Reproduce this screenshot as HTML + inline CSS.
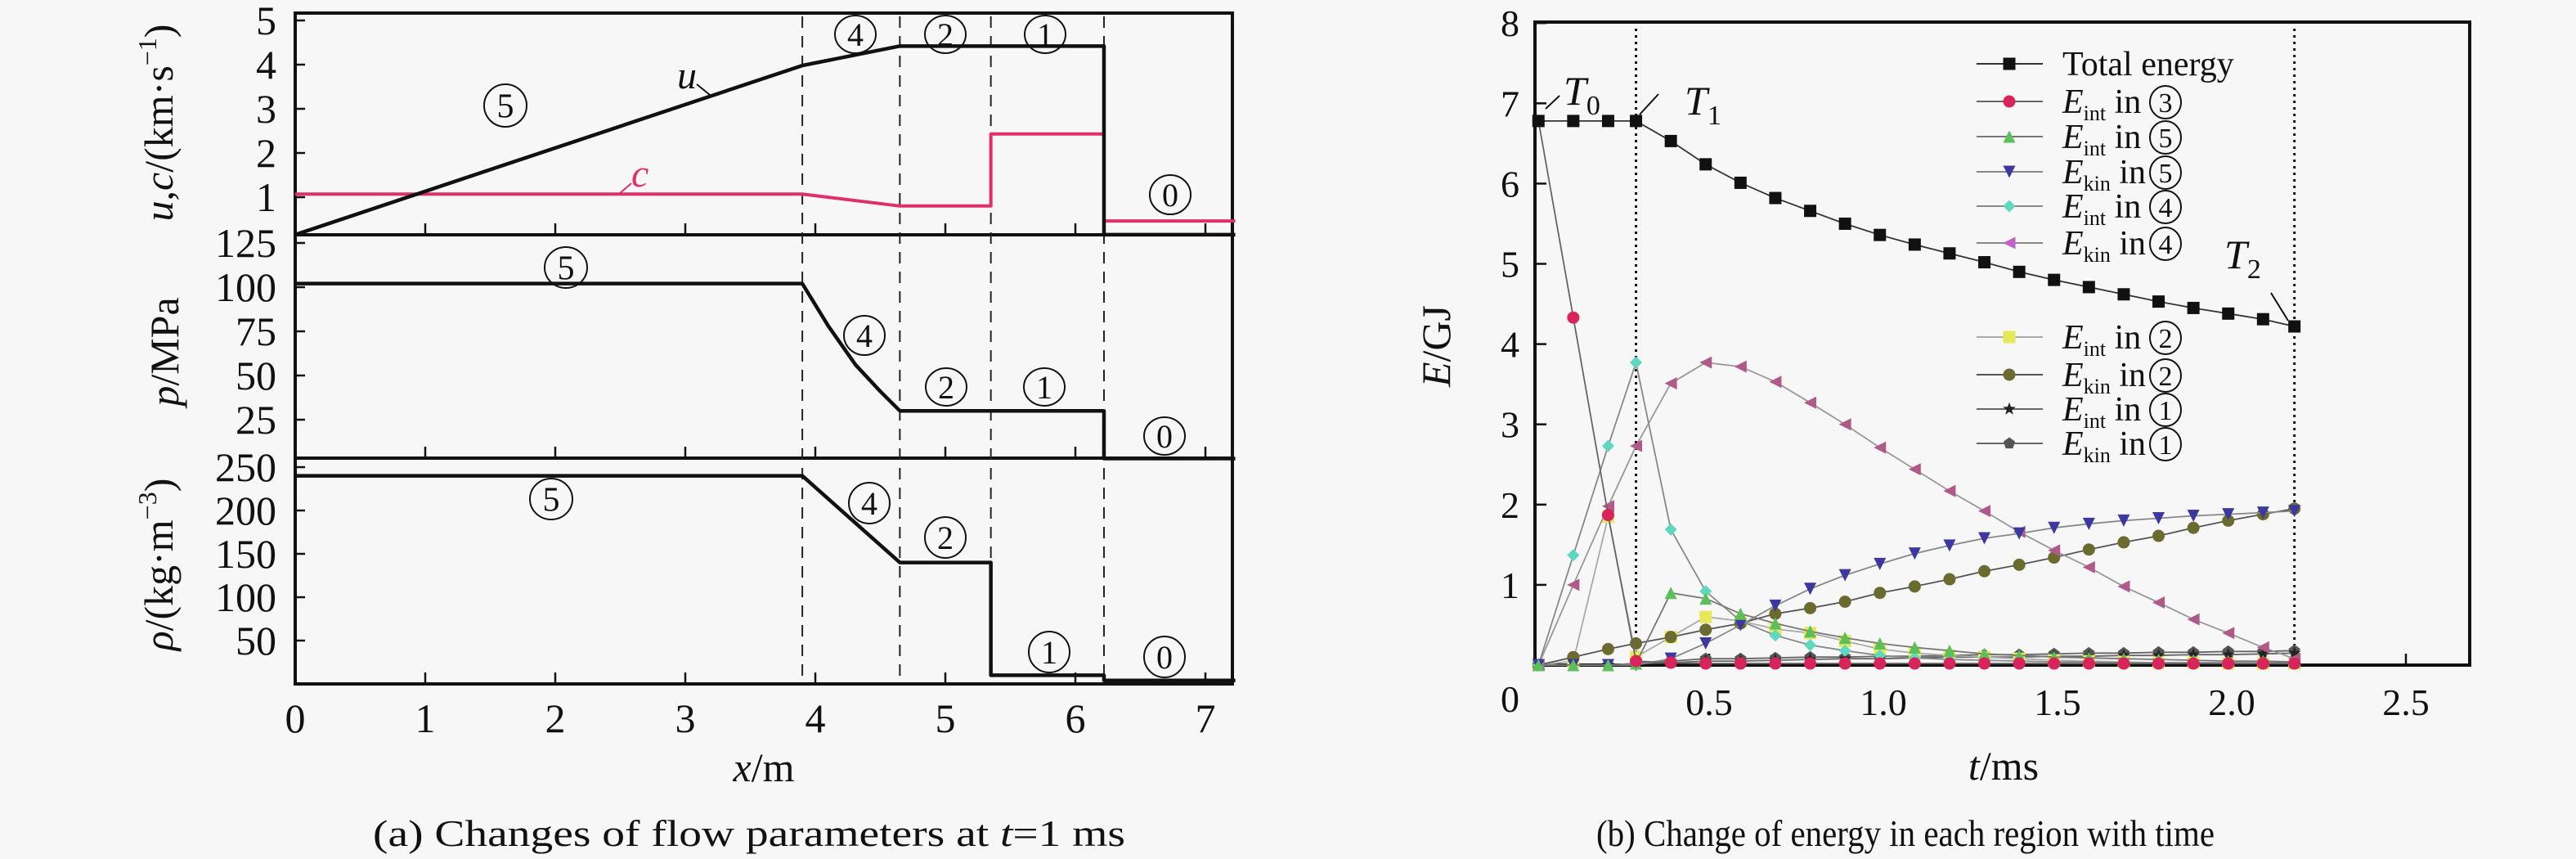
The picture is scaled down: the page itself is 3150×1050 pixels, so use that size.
<!DOCTYPE html>
<html><head><meta charset="utf-8"><style>
html,body{margin:0;padding:0;background:#f7f7f7;}
svg{display:block;font-family:"Liberation Serif",serif;}
</style></head><body>
<svg id="fig" width="3150" height="1050" viewBox="0 0 3150 1050" xmlns="http://www.w3.org/2000/svg">
<rect x="0" y="0" width="3150" height="1050" fill="#f7f7f7"/>
<g id="left"></g>
<g id="right"></g>
</svg>
<script>
// ---------- Left chart data ----------
const xTicks = [0,1,2,3,4,5,6,7];
const uTicks = [1,2,3,4,5];
const pTicks = [25,50,75,100,125];
const rTicks = [50,100,150,200,250];
const waveFronts = [3.9,4.65,5.35,6.22];
const uX = [0,3.9,4.65,6.22,6.22,7.23];
const uV = [0.15,3.98,4.42,4.42,0.15,0.15];
const cX = [0,3.9,4.65,5.35,5.35,6.22,6.22,7.23];
const cV = [1.07,1.07,0.8,0.8,2.43,2.43,0.46,0.46];
const pX = [0,3.9,4.1,4.31,4.5,4.65,6.22,6.22,7.23];
const pV = [102,102,78,56,41,30,30,3,3];
const rX = [0,3.9,4.65,5.35,5.35,6.22,6.22,7.23];
const rV = [240,240,140,140,10,10,4,4];

// ---------- Right chart data ----------
const tTicks = [0,0.5,1.0,1.5,2.0,2.5];
const tTickLabels = ["0","0.5","1.0","1.5","2.0","2.5"];
const eTicks = [1,2,3,4,5,6,7,8];
const tVals = [0.01,0.11,0.21,0.29,0.39,0.49,0.59,0.69,0.79,0.89,0.99,1.09,1.19,1.29,1.39,1.49,1.59,1.69,1.79,1.89,1.99,2.09,2.18];
const totalE = [6.78,6.78,6.78,6.78,6.53,6.24,6.01,5.82,5.66,5.50,5.36,5.24,5.13,5.02,4.90,4.80,4.71,4.62,4.53,4.45,4.38,4.31,4.22];
const eInt3 = [6.78,4.33,1.87,0.05,0.03,0.02,0.02,0.02,0.02,0.02,0.02,0.02,0.02,0.02,0.02,0.02,0.02,0.02,0.02,0.02,0.02,0.02,0.02];
const eInt5 = [0,0,0,0.02,0.90,0.83,0.64,0.52,0.42,0.34,0.27,0.22,0.18,0.14,0.12,0.10,0.09,0.08,0.07,0.06,0.05,0.05,0.04];
const eKin5 = [0,0,0,0,0.08,0.27,0.50,0.74,0.95,1.12,1.26,1.39,1.49,1.58,1.64,1.71,1.76,1.80,1.83,1.86,1.88,1.90,1.92];
const eInt4 = [0,1.37,2.73,3.77,1.69,0.92,0.55,0.37,0.25,0.18,0.12,0.09,0.07,0.06,0.05,0.04,0.04,0.03,0.03,0.03,0.03,0.03,0.03];
const eKin4 = [0,1.0,1.98,2.73,3.51,3.77,3.72,3.53,3.27,3.0,2.71,2.44,2.17,1.92,1.66,1.43,1.22,0.98,0.78,0.57,0.40,0.22,0.08];
const eInt2 = [0,0.05,1.85,0.10,0.35,0.60,0.55,0.45,0.40,0.30,0.20,0.15,0.12,0.10,0.08,0.06,0.05,0.04,0.03,0.03,0.02,0.02,0.02];
const eKin2 = [0,0.10,0.20,0.27,0.35,0.44,0.52,0.64,0.71,0.79,0.90,0.98,1.07,1.17,1.25,1.34,1.44,1.53,1.61,1.71,1.80,1.88,1.95];
const eInt1 = [0,0,0,0.02,0.03,0.05,0.05,0.06,0.07,0.08,0.08,0.09,0.10,0.10,0.10,0.11,0.11,0.12,0.12,0.13,0.13,0.14,0.15];
const eKin1 = [0,0,0,0.02,0.05,0.08,0.08,0.09,0.10,0.10,0.11,0.11,0.12,0.13,0.13,0.14,0.15,0.15,0.16,0.16,0.17,0.17,0.18];

const NS = "http://www.w3.org/2000/svg";
function mk(parent, tag, attrs){const e=document.createElementNS(NS,tag);for(const k in attrs)e.setAttribute(k,attrs[k]);parent.appendChild(e);return e;}
const L = document.getElementById('left');
const R = document.getElementById('right');

// ---------- Left scales ----------
const LX0=361, LX1=1507;
const X = x => LX0 + 159*x;
const Yu = v => 241 - 54*(v-1);
const Yp = v => 297 + (125-v)*2.16;
const Yr = v => 836 - 1.06*v;
const panels = [{top:16,bot:287,name:'velocity-panel'},{top:287,bot:560,name:'pressure-panel'},{top:560,bot:836,name:'density-panel'}];

function circled(parent, cx, cy, digit, w, h, fs){
  const g = mk(parent,'g',{});
  
  
  mk(g,'ellipse',{cx:cx,cy:cy,rx:w/2,ry:h/2,fill:'none',stroke:'#111','stroke-width':2});
  const t = mk(g,'text',{x:cx,y:cy+fs*0.35,'text-anchor':'middle','font-size':fs,fill:'#111'});
  t.textContent = digit;
  return g;
}

panels.forEach(p=>{
  const r = mk(L,'rect',{x:LX0,y:p.top,width:LX1-LX0,height:p.bot-p.top,fill:'none',stroke:'#111','stroke-width':4});
  
  
  xTicks.forEach(v=>{
    const tk = mk(L,'line',{x1:X(v),x2:X(v),y1:p.bot,y2:p.bot-14,stroke:'#111','stroke-width':2.5});
    
    
  });
});
function yTicks(vals, fy, name){
  vals.forEach(v=>{
    const y = fy(v);
    const tk = mk(L,'line',{x1:LX0,x2:LX0+12,y1:y,y2:y,stroke:'#111','stroke-width':2.5});
    
    
    const tl = mk(L,'text',{x:338,y:y+17,'text-anchor':'end','font-size':50,fill:'#111'});
    
    
    tl.textContent = String(v);
  });
}
yTicks(uTicks,Yu,'velocity');
yTicks(pTicks,Yp,'pressure');
yTicks(rTicks,Yr,'density');
xTicks.forEach(v=>{
  const tl = mk(L,'text',{x:X(v),y:895,'text-anchor':'middle','font-size':50,fill:'#111'});
  
  
  tl.textContent = String(v);
});
waveFronts.forEach(v=>{
  const d = mk(L,'line',{x1:X(v),x2:X(v),y1:20,y2:834,stroke:'#222','stroke-width':2,'stroke-dasharray':'14 10'});
  
  
});
function poly(parent, xs, vs, fx, fy, color, w, name){
  const pts = xs.map((x,i)=>fx(x)+','+fy(vs[i])).join(' ');
  const pl = mk(parent,'polyline',{points:pts,fill:'none',stroke:color,'stroke-width':w,'stroke-linejoin':'round'});
  
  
  return pl;
}
poly(L,cX,cV,X,Yu,'#e0306a',4,'sound-speed-line');
poly(L,uX,uV,X,Yu,'#111',4.5,'velocity-line');
poly(L,pX,pV,X,Yp,'#111',4.5,'pressure-line');
poly(L,rX,rV,X,Yr,'#111',4.5,'density-line');

const uLab = mk(L,'text',{x:828,y:108,'font-size':48,'font-style':'italic',fill:'#111'});


uLab.textContent='u';
const uLead = mk(L,'line',{x1:852,y1:103,x2:868,y2:116,stroke:'#111','stroke-width':2});


const cLab = mk(L,'text',{x:772,y:228,'font-size':48,'font-style':'italic',fill:'#e0306a'});


cLab.textContent='c';
const cLead = mk(L,'line',{x1:772,y1:224,x2:756,y2:238,stroke:'#e0306a','stroke-width':2});



circled(L,618,129,'5',52,52,42);
circled(L,1046,42,'4',50,46,40);
circled(L,1156,42,'2',50,46,40);
circled(L,1278,42,'1',50,46,40);
circled(L,1431,238,'0',50,48,40);
circled(L,692,327,'5',52,50,42);
circled(L,1057,410,'4',50,48,40);
circled(L,1157,473,'2',50,46,40);
circled(L,1277,473,'1',50,46,40);
circled(L,1424,533,'0',50,46,40);
circled(L,674,610,'5',52,50,42);
circled(L,1063,615,'4',50,50,40);
circled(L,1156,657,'2',50,50,40);
circled(L,1283,797,'1',50,50,40);
circled(L,1424,803,'0',50,50,40);

let t1 = mk(L,'text',{x:0,y:0,'font-size':50,fill:'#111','text-anchor':'middle',transform:'translate(211,150) rotate(-90)'});


t1.innerHTML='<tspan font-style="italic">u</tspan>,<tspan font-style="italic">c</tspan>/(km·s<tspan font-size="32" dy="-20">−1</tspan><tspan dy="20">)</tspan>';
let t2 = mk(L,'text',{x:0,y:0,'font-size':50,fill:'#111','text-anchor':'middle',transform:'translate(218,430) rotate(-90)'});


t2.innerHTML='<tspan font-style="italic">p</tspan>/MPa';
let t3 = mk(L,'text',{x:0,y:0,'font-size':50,fill:'#111','text-anchor':'middle',transform:'translate(211,690) rotate(-90)'});


t3.innerHTML='<tspan font-style="italic">ρ</tspan>/(kg·m<tspan font-size="32" dy="-20">−3</tspan><tspan dy="20">)</tspan>';
let t4 = mk(L,'text',{x:934,y:955,'font-size':50,fill:'#111','text-anchor':'middle'});


t4.innerHTML='<tspan font-style="italic">x</tspan>/m';
let cap1 = mk(L,'text',{x:916,y:1034,'font-size':46,fill:'#111','text-anchor':'middle',textLength:920,lengthAdjust:'spacingAndGlyphs'});


cap1.innerHTML='(a) Changes of flow parameters at <tspan font-style="italic">t</tspan>=1 ms';

// ---------- Right scales ----------
const RX0=1877, RX1=3020, RY0=27, RY1=813;
const TX = t => RX0 + 426*t;
const EY = e => RY1 - 98.1*e;
const frame = mk(R,'rect',{x:RX0,y:RY0,width:RX1-RX0,height:RY1-RY0,fill:'none',stroke:'#111','stroke-width':4});


eTicks.forEach(v=>{
  const y=EY(v);
  const tk = mk(R,'line',{x1:RX0,x2:RX0+14,y1:y,y2:y,stroke:'#111','stroke-width':2.5});
  
  
});
eTicks.concat([0]).forEach(v=>{
  const y = v===0 ? 870 : EY(v)+16;
  const tl = mk(R,'text',{x:1858,y:y,'text-anchor':'end','font-size':46,fill:'#111'});
  
  
  tl.textContent=String(v);
});
tTicks.forEach((v,i)=>{
  const tk = mk(R,'line',{x1:TX(v),x2:TX(v),y1:RY1,y2:RY1-14,stroke:'#111','stroke-width':2.5});
  
  
  if(i===0) return;
  const tl = mk(R,'text',{x:TX(v),y:874,'text-anchor':'middle','font-size':46,fill:'#111'});
  
  
  tl.textContent=tTickLabels[i];
});
[0.29,2.18].forEach(v=>{
  const d = mk(R,'line',{x1:TX(v),x2:TX(v),y1:RY0+8,y2:RY1,stroke:'#111','stroke-width':3,'stroke-dasharray':'3 5'});
  
  
});

function marker(parent, shape, cx, cy, color, s){
  let el;
  const h=s/2;
  if(shape==='square') el = mk(parent,'rect',{x:cx-h,y:cy-h,width:s,height:s,fill:color});
  else if(shape==='circle') el = mk(parent,'circle',{cx:cx,cy:cy,r:h,fill:color});
  else if(shape==='up') el = mk(parent,'polygon',{points:`${cx},${cy-h} ${cx+h},${cy+h} ${cx-h},${cy+h}`,fill:color});
  else if(shape==='down') el = mk(parent,'polygon',{points:`${cx-h},${cy-h} ${cx+h},${cy-h} ${cx},${cy+h}`,fill:color});
  else if(shape==='diamond') el = mk(parent,'polygon',{points:`${cx},${cy-h} ${cx+h},${cy} ${cx},${cy+h} ${cx-h},${cy}`,fill:color});
  else if(shape==='left') el = mk(parent,'polygon',{points:`${cx-h},${cy} ${cx+h},${cy-h} ${cx+h},${cy+h}`,fill:color});
  else if(shape==='star'){
    let pts=[];for(let k=0;k<10;k++){const r=k%2?h*0.45:h*1.1;const a=-Math.PI/2+k*Math.PI/5;pts.push((cx+r*Math.cos(a)).toFixed(1)+','+(cy+r*Math.sin(a)).toFixed(1));}
    el = mk(parent,'polygon',{points:pts.join(' '),fill:color});
  } else if(shape==='pent'){
    let pts=[];for(let k=0;k<5;k++){const a=-Math.PI/2+k*2*Math.PI/5;pts.push((cx+h*Math.cos(a)).toFixed(1)+','+(cy+h*Math.sin(a)).toFixed(1));}
    el = mk(parent,'polygon',{points:pts.join(' '),fill:color});
  }
  return el;
}

const seriesDefs = [
  {vals:eKin1,shape:'pent',color:'#555555',line:'#666',name:'ekin-region-1'},
  {vals:eInt1,shape:'star',color:'#222222',line:'#666',name:'eint-region-1'},
  {vals:eInt2,shape:'square',color:'#e6e85a',line:'#aaa',name:'eint-region-2'},
  {vals:eKin2,shape:'circle',color:'#6b6b30',line:'#555',name:'ekin-region-2'},
  {vals:eKin4,shape:'left',color:'#b05a8a',line:'#999',name:'ekin-region-4'},
  {vals:eInt4,shape:'diamond',color:'#5fd8c0',line:'#888',name:'eint-region-4'},
  {vals:eKin5,shape:'down',color:'#3c38a0',line:'#888',name:'ekin-region-5'},
  {vals:eInt5,shape:'up',color:'#5cbf5c',line:'#777',name:'eint-region-5'},
  {vals:eInt3,shape:'circle',color:'#d8245a',line:'#666',name:'eint-region-3'},
  {vals:totalE,shape:'square',color:'#111111',line:'#333',name:'total-energy'}
];
seriesDefs.forEach(sd=>{
  const g = mk(R,'g',{});
  
  
  const pts = tVals.map((t,i)=>TX(t).toFixed(1)+','+EY(sd.vals[i]).toFixed(1)).join(' ');
  const pl = mk(g,'polyline',{points:pts,fill:'none',stroke:sd.line,'stroke-width':1.8});
  
  
  tVals.forEach((t,i)=>{
    const m = marker(g,sd.shape,TX(t),EY(sd.vals[i]),sd.color,15);
    
    
  });
});

function tLabel(x,y,sub,name){
  const t = mk(R,'text',{x:x,y:y,'font-size':50,'font-style':'italic',fill:'#111'});
  
  
  t.innerHTML='T<tspan font-style="normal" font-size="34" dy="12">'+sub+'</tspan>';
}
tLabel(1912,128,'0','t0-label');
tLabel(2060,140,'1','t1-label');
tLabel(2720,328,'2','t2-label');
[[1890,133,1907,117],[2005,140,2028,115],[2777,358,2798,392]].forEach(a=>{
  const l = mk(R,'line',{x1:a[0],y1:a[1],x2:a[2],y2:a[3],stroke:'#111','stroke-width':2});
  
  
});

const legendRows = [
  {y:78,shape:'square',color:'#111',line:'#333',kind:'total'},
  {y:124,shape:'circle',color:'#d8245a',line:'#666',kind:'int',d:'3'},
  {y:167,shape:'up',color:'#5cbf5c',line:'#777',kind:'int',d:'5'},
  {y:210,shape:'down',color:'#3c38a0',line:'#888',kind:'kin',d:'5'},
  {y:252,shape:'diamond',color:'#5fd8c0',line:'#888',kind:'int',d:'4'},
  {y:297,shape:'left',color:'#c060c8',line:'#888',kind:'kin',d:'4'},
  {y:412,shape:'square',color:'#e6e85a',line:'#aaa',kind:'int',d:'2'},
  {y:458,shape:'circle',color:'#6b6b30',line:'#555',kind:'kin',d:'2'},
  {y:500,shape:'star',color:'#222',line:'#666',kind:'int',d:'1'},
  {y:542,shape:'pent',color:'#555',line:'#666',kind:'kin',d:'1'}
];
legendRows.forEach(r=>{
  const g = mk(R,'g',{});
  
  
  mk(g,'line',{x1:2417,x2:2498,y1:r.y,y2:r.y,stroke:r.line,'stroke-width':2});
  marker(g,r.shape,2457,r.y,r.color,15);
  const t = mk(g,'text',{x:2522,y:r.y+14,'font-size':42,fill:'#111'});
  if(r.kind==='total'){ t.textContent='Total energy'; }
  else {
    t.innerHTML='<tspan font-style="italic">E</tspan><tspan font-size="26" dy="9">'+r.kind+'</tspan><tspan dy="-9"> in</tspan>';
    circled(g,2648,r.y+1,r.d,38,40,34);
  }
});

let t5 = mk(R,'text',{x:0,y:0,'font-size':50,fill:'#111','text-anchor':'middle',transform:'translate(1773,423) rotate(-90)'});


t5.innerHTML='<tspan font-style="italic">E</tspan>/GJ';
let t6 = mk(R,'text',{x:2450,y:953,'font-size':50,fill:'#111','text-anchor':'middle'});


t6.innerHTML='<tspan font-style="italic">t</tspan>/ms';
let cap2 = mk(R,'text',{x:2330,y:1034,'font-size':46,fill:'#111','text-anchor':'middle',textLength:756,lengthAdjust:'spacingAndGlyphs'});


cap2.textContent='(b) Change of energy in each region with time';
</script>
</body></html>
